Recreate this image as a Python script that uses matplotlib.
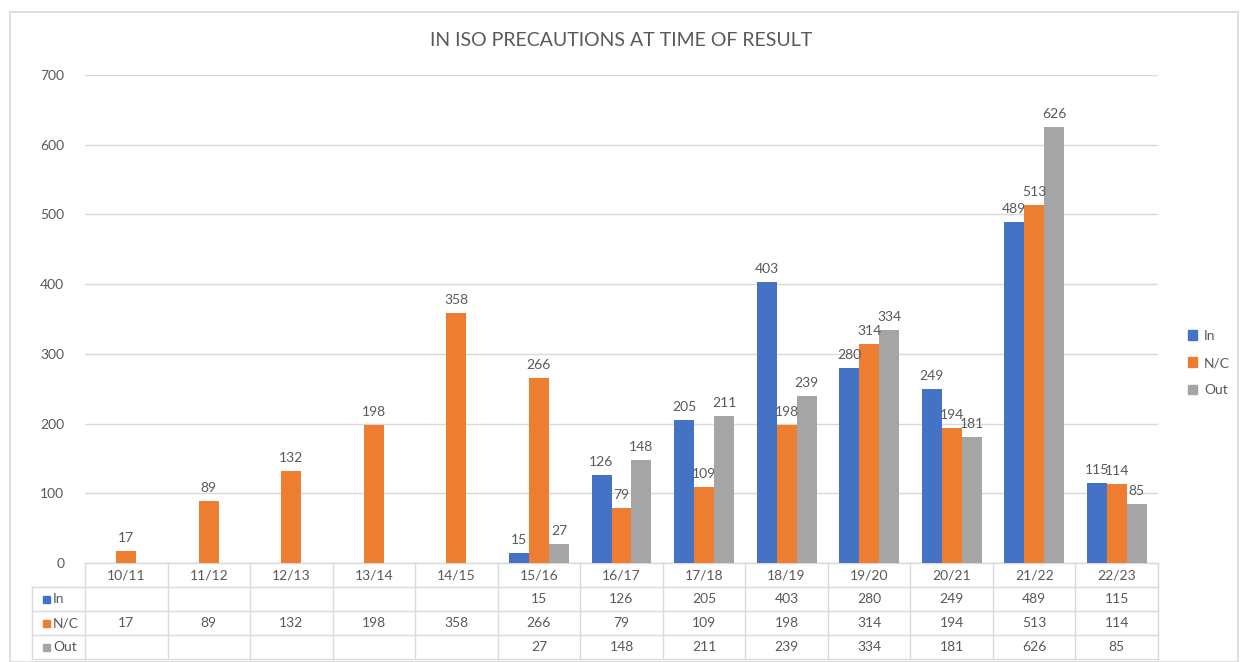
import matplotlib.pyplot as plt
import numpy as np
from matplotlib.patches import Rectangle
from matplotlib.transforms import blended_transform_factory

seasons = ["10/11", "11/12", "12/13", "13/14", "14/15", "15/16", "16/17",
           "17/18", "18/19", "19/20", "20/21", "21/22", "22/23"]
in_vals = [np.nan, np.nan, np.nan, np.nan, np.nan, 15, 126, 205, 403, 280, 249, 489, 115]
nc_vals = [17, 89, 132, 198, 358, 266, 79, 109, 198, 314, 194, 513, 114]
out_vals = [np.nan, np.nan, np.nan, np.nan, np.nan, 27, 148, 211, 239, 334, 181, 626, 85]
series_names = ["In", "N/C", "Out"]
yticks = [0, 100, 200, 300, 400, 500, 600, 700]

colors = ["#4472C4", "#ED7D31", "#A5A5A5"]
text_col = "#595959"
grid_col = "#D9D9D9"

plt.rcParams["font.family"] = ["Lato", "DejaVu Sans"]

W, H = 1240, 662
fig = plt.figure(figsize=(W / 100, H / 100), dpi=100)
fig.patches.append(Rectangle((10 / W, 0), (W - 12) / W, (H - 12) / H, transform=fig.transFigure,
                             fill=False, edgecolor="#D9D9D9", linewidth=1.2))

left, right, top, bottom = 85, 1158, 75, 563
ax = fig.add_axes([left / W, (H - bottom) / H, (right - left) / W, (bottom - top) / H])

x = np.arange(len(seasons))
bw = 0.242
all_series = [in_vals, nc_vals, out_vals]
for i, (name, vals) in enumerate(zip(series_names, all_series)):
    pos = x + (i - 1) * bw
    v = np.array(vals, dtype=float)
    ax.bar(pos, v, width=bw, color=colors[i], label=name, zorder=3)
    for px, val in zip(pos, v):
        if not np.isnan(val):
            ax.text(px, val + 10, f"{int(val)}", ha="center", va="bottom",
                    fontsize=10, color=text_col, zorder=4)

ax.set_xlim(-0.5, len(seasons) - 0.5)
ax.set_ylim(0, 700)
ax.set_yticks(yticks)
ax.set_yticklabels([str(t) for t in yticks], color=text_col, fontsize=10)
ax.tick_params(axis="y", length=0, pad=15)
ax.set_xticks([])
ax.grid(axis="y", color=grid_col, linewidth=1, zorder=0)
for s in ax.spines.values():
    s.set_visible(False)

ax.set_title("IN ISO PRECAUTIONS AT TIME OF RESULT", fontsize=14, color=text_col, pad=21)

# data table under the axis, x in data units, y in axes units
trans = blended_transform_factory(ax.transData, ax.transAxes)
ax_h = bottom - top
col_px = (right - left) / len(seasons)
lab_x = -0.5 - 53 / col_px
row_h = 24 / ax_h
n_rows = 4
line_kw = dict(color=grid_col, linewidth=1, transform=trans, clip_on=False, zorder=2)

# horizontal lines
ax.plot([-0.5, len(seasons) - 0.5], [0, 0], **line_kw)
for r in range(1, n_rows + 1):
    ax.plot([lab_x, len(seasons) - 0.5], [-r * row_h, -r * row_h], **line_kw)
# vertical lines
for k in range(len(seasons) + 1):
    ax.plot([k - 0.5, k - 0.5], [0, -n_rows * row_h], **line_kw)
ax.plot([lab_x, lab_x], [-row_h, -n_rows * row_h], **line_kw)

for j, s in enumerate(seasons):
    ax.text(x[j], -0.5 * row_h, s, transform=trans, ha="center", va="center",
            fontsize=10, color=text_col)
for i, (name, vals) in enumerate(zip(series_names, all_series)):
    yc = -(i + 1.5) * row_h
    for j, v in enumerate(vals):
        if not np.isnan(float(v)):
            ax.text(x[j], yc, str(int(v)), transform=trans, ha="center", va="center",
                    fontsize=10, color=text_col)
    sq = 7
    sq_w = sq / col_px
    ax.add_patch(Rectangle((lab_x + 11 / col_px, yc - sq / 2 / ax_h), sq_w, sq / ax_h,
                           transform=trans, color=colors[i], clip_on=False, zorder=5))
    ax.text(lab_x + 21 / col_px, yc, name, transform=trans, ha="left", va="center",
            fontsize=10, color=text_col, zorder=5)

handles = [Rectangle((0, 0), 1, 1, color=c) for c in colors]
fig.legend(handles, series_names, loc="center left", bbox_to_anchor=(1175 / W, (H - 363) / H),
           frameon=False, fontsize=10, labelcolor=text_col, handlelength=0.7, handleheight=0.7,
           handletextpad=0.5, labelspacing=1.1)

fig.savefig("out.png", dpi=100)
